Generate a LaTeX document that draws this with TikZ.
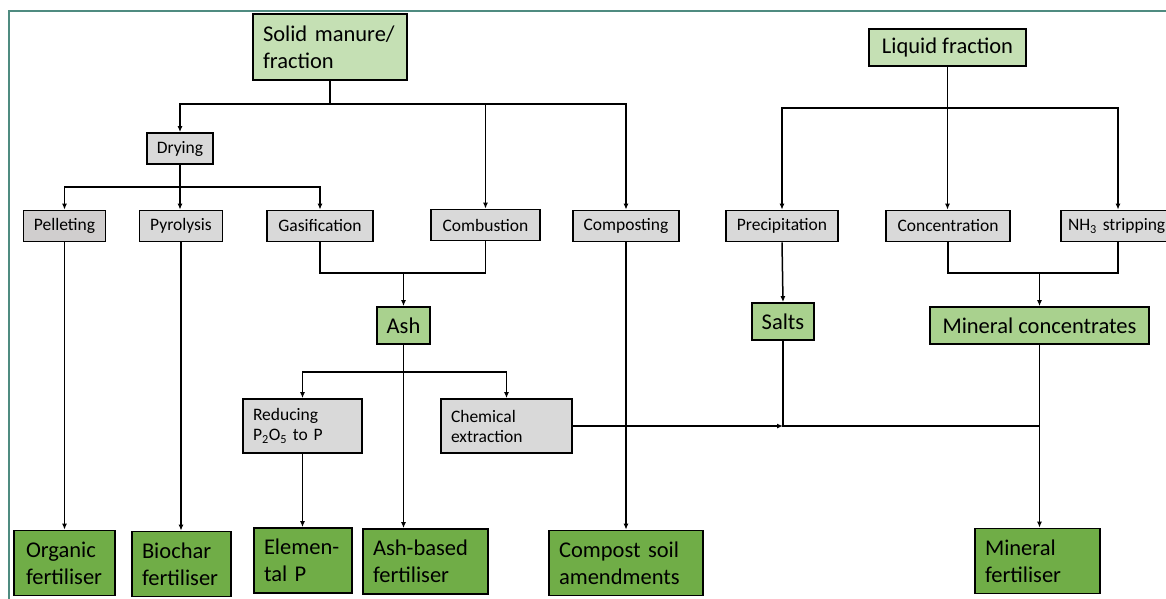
\documentclass[tikz,border=0pt]{standalone}
\usepackage{fontspec}
\setmainfont{Carlito}
\usetikzlibrary{positioning, arrows.meta}

\definecolor{srcgreen}{HTML}{C5E0B4}
\definecolor{midgreen}{HTML}{A9D18E}
\definecolor{prodgreen}{HTML}{70AD47}
\definecolor{procgray}{HTML}{D9D9D9}
\definecolor{pelgray}{HTML}{D0CECE}
\definecolor{framecol}{HTML}{4F8B80}

\begin{document}
\begin{tikzpicture}[x=1pt, y=-1pt, >={Latex[length=6pt,width=5pt]},
  box/.style={draw=black, line width=1.7pt, inner sep=0pt, inner xsep=10pt},
  proc/.style={box, fill=procgray, minimum height=31pt, font=\fontsize{17.5}{20}\selectfont},
  src/.style={box, fill=srcgreen, font=\fontsize{22.5}{27}\selectfont},
  mid/.style={box, fill=midgreen, minimum height=37pt, font=\fontsize{22.5}{27}\selectfont},
  prod/.style={box, fill=prodgreen, minimum height=65pt, align=left, font=\fontsize{22.5}{27}\selectfont},
  flow/.style={->, line width=1.5pt},
  link/.style={-, line width=1.5pt}]
  \useasboundingbox (0,0) rectangle (1166,599);
  \draw[framecol, line width=2.8pt] (9,11) rectangle (1200,650);

  % sources
  \node[src, text width=134pt, minimum height=66pt, align=left] (solid) at (330,47) {Solid manure/\\fraction};
  \node[src, minimum width=157pt, minimum height=37pt] (liquid) at (947.5,47.5) {Liquid fraction};

  % processes
  \node[proc, minimum width=66pt] (dry) at (180,148.5) {Drying};
  \node[proc, minimum width=82pt, fill=pelgray] (pel) at (64.5,226) {Pelleting};
  \node[proc, minimum width=83pt] (pyr) at (181,226) {Pyrolysis};
  \node[proc, minimum width=106pt] (gas) at (320,226) {Gasification};
  \node[proc, minimum width=109pt] (comb) at (485.5,225) {Combustion};
  \node[proc, minimum width=106pt] (comp) at (626,226) {Composting};
  \node[proc, minimum width=112pt] (prec) at (782,226) {Precipitation};
  \node[proc, minimum width=124pt] (conc) at (948,226) {Concentration};
  \node[proc, text width=110pt, inner xsep=7pt, align=left] (strip) at (1123,226) {NH\textsubscript{3} stripping};

  % intermediates
  \node[mid, minimum width=53pt] (ash) at (403.5,325.5) {Ash};
  \node[mid, minimum width=62pt] (salts) at (783,321.5) {Salts};
  \node[mid, minimum width=219pt] (mincon) at (1039.5,325.5) {Mineral concentrates};
  \node[proc, text width=99pt, minimum height=54pt, align=left] (red) at (302.5,426) {Reducing\\P\textsubscript{2}O\textsubscript{5} to P};
  \node[proc, text width=111pt, minimum height=54pt, align=left] (chem) at (506.5,426) {Chemical\\extraction};

  % products
  \node[prod, text width=77pt, inner xsep=12pt] (org) at (64.5,563) {Organic\\fertiliser};
  \node[prod, text width=79pt] (bio) at (181.5,564) {Biochar\\fertiliser};
  \node[prod, text width=78pt] (elem) at (303,560.5) {Elemen-\\tal P};
  \node[prod, text width=105pt] (ashf) at (425.5,561.5) {Ash-based\\fertiliser};
  \node[prod, text width=134pt] (compf) at (626,563) {Compost soil\\amendments};
  \node[prod, text width=105pt] (minf) at (1037.5,561) {Mineral\\fertiliser};

  % solid branch
  \coordinate (sj) at (solid.south |- 0,104);
  \draw[link] (solid.south) -- (sj);
  \draw[flow] (sj) -| (dry.north);
  \draw[flow] (sj) -| (comb.north);
  \draw[flow] (sj) -| (comp.north);

  \draw[link] (dry.south) -- (dry.south |- 0,187);
  \draw[flow] (dry.south |- 0,187) -| (pel.north);
  \draw[flow] (dry.south |- 0,187) -| (gas.north);
  \draw[flow] (dry.south) -- (dry.south |- pyr.north);

  % liquid branch
  \draw[link] (liquid.south) -- (liquid.south |- 0,108);
  \draw[flow] (liquid.south |- 0,108) -| (prec.north);
  \draw[flow] (liquid.south |- 0,108) -| ([xshift=-5pt]strip.north);
  \draw[flow] (liquid.south) -- (liquid.south |- conc.north);

  % to intermediates
  \draw[link] (gas.south) |- (comb.south |- 0,273) -- (comb.south);
  \draw[flow] (ash.north |- 0,273) -- (ash.north);
  \draw[flow] (prec.south) -- (salts.north);
  \draw[link] (conc.south) |- ([xshift=-5pt]strip.south |- 0,273) -- ([xshift=-5pt]strip.south);
  \draw[flow] (mincon.north |- 0,273) -- (mincon.north);

  \draw[link] (ash.south) -- (ash.south |- 0,372);
  \draw[flow] (ash.south |- 0,372) -| (red.north);
  \draw[flow] (ash.south |- 0,372) -| (chem.north);

  % to products
  \draw[flow] (pel.south) -- (pel.south |- org.north);
  \draw[flow] (pyr.south) -- (pyr.south |- bio.north);
  \draw[flow] (red.south) -- (red.south |- elem.north);
  \draw[flow] (ash.south) -- (ash.south |- ashf.north);
  \draw[flow] (comp.south) -- (comp.south |- compf.north);

  \coordinate (cj) at (salts.south |- chem.east);
  \draw[flow, line width=2.2pt] (chem.east) -- (cj);
  \draw[link] (salts.south) -- (cj) -- (cj -| mincon.south);
  \draw[flow] (mincon.south) -- (mincon.south |- minf.north);
\end{tikzpicture}
\end{document}
